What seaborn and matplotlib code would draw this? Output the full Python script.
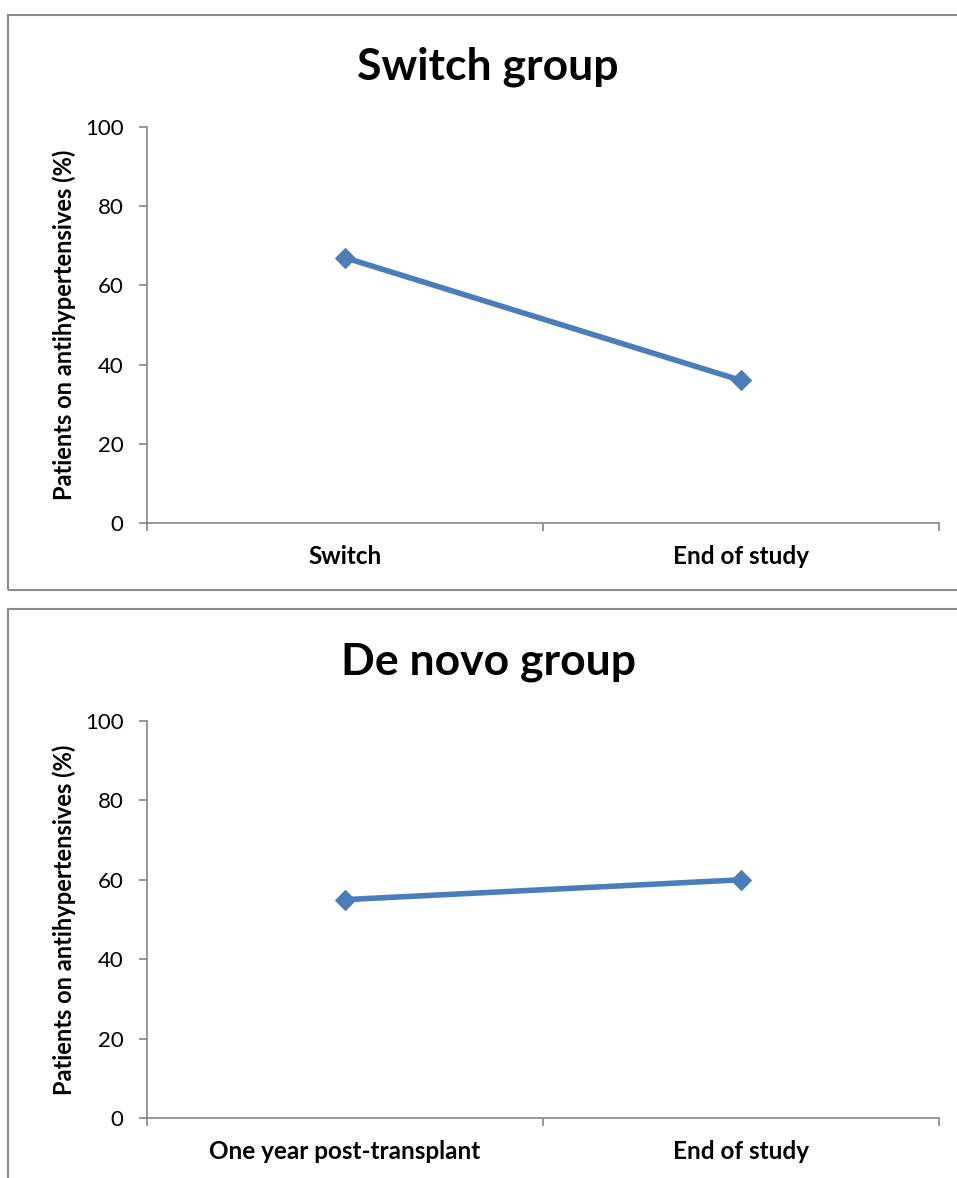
import matplotlib
matplotlib.use("Agg")
import matplotlib.pyplot as plt
import seaborn as sns
import pandas as pd
from matplotlib.patches import Rectangle
from matplotlib.ticker import FixedLocator

# Data
switch_categories = ["Switch", "End of study"]
switch_values = [67, 36]
denovo_categories = ["One year post-transplant", "End of study"]
denovo_values = [55, 60]
titles = ["Switch group", "De novo group"]
ylabel = "Patients on antihypertensives (%)"
yticks = [0, 20, 40, 60, 80, 100]

sns.set_theme(style="white")
plt.rcParams['font.family'] = ['Lato', 'DejaVu Sans']
plt.rcParams['text.color'] = 'black'
plt.rcParams['axes.labelcolor'] = 'black'

W, H = 957, 1178
fig = plt.figure(figsize=(W / 100, H / 100), dpi=100)

LINE = "#4A7EBB"
GRID = "#868686"

def fx(px):
    return px / W

def fy(py):
    return 1 - py / H

# panel borders
for (top, bottom) in [(15, 590), (609, 1190)]:
    fig.patches.append(Rectangle((fx(8), fy(bottom)), fx(1000) - fx(8), fy(top) - fy(bottom),
                                 transform=fig.transFigure, fill=False,
                                 edgecolor="#8c8c8c", linewidth=1.5))

panels = [
    (switch_categories, switch_values, titles[0], 127, 523, 67),
    (denovo_categories, denovo_values, titles[1], 721, 1118, 662),
]

for cats, vals, title, ytop, ybot, ty in panels:
    ax = fig.add_axes([fx(147), fy(ybot), fx(939) - fx(147), fy(ytop) - fy(ybot)])
    df = pd.DataFrame({"cat": cats, "val": vals, "x": list(range(len(cats)))})
    sns.lineplot(data=df, x="x", y="val", ax=ax, color=LINE, linewidth=4,
                 marker="D", markersize=10, markeredgecolor=LINE, markerfacecolor=LINE)
    ax.set_xlim(-0.5, len(cats) - 0.5)
    ax.set_ylim(0, 100)
    ax.set_yticks(yticks)
    ax.set_xticks(range(len(cats)))
    ax.set_xticklabels(cats, fontsize=17.5, fontweight="bold")
    ax.xaxis.set_minor_locator(FixedLocator([-0.5, 0.5, 1.5]))
    ax.tick_params(axis="x", which="major", length=0, pad=16, labelcolor="black")
    ax.tick_params(axis="x", which="minor", length=6, width=1.2, color=GRID, direction="out", bottom=True)
    ax.tick_params(axis="y", which="major", length=6, width=1.2, color=GRID, direction="out",
                   left=True, labelsize=16, pad=11, labelcolor="black")
    ax.set_xlabel("")
    ax.set_ylabel(ylabel, fontsize=17, fontweight="bold")
    ax.yaxis.set_label_coords((76 - 147) / 792, 0.5)
    for s in ["top", "right"]:
        ax.spines[s].set_visible(False)
    for s in ["left", "bottom"]:
        ax.spines[s].set_color(GRID)
        ax.spines[s].set_linewidth(1.2)
    ax.grid(False)
    fig.text(fx(488), fy(ty), title, ha="center", va="center", fontsize=32, fontweight="bold")

fig.savefig("out.png", dpi=100)
